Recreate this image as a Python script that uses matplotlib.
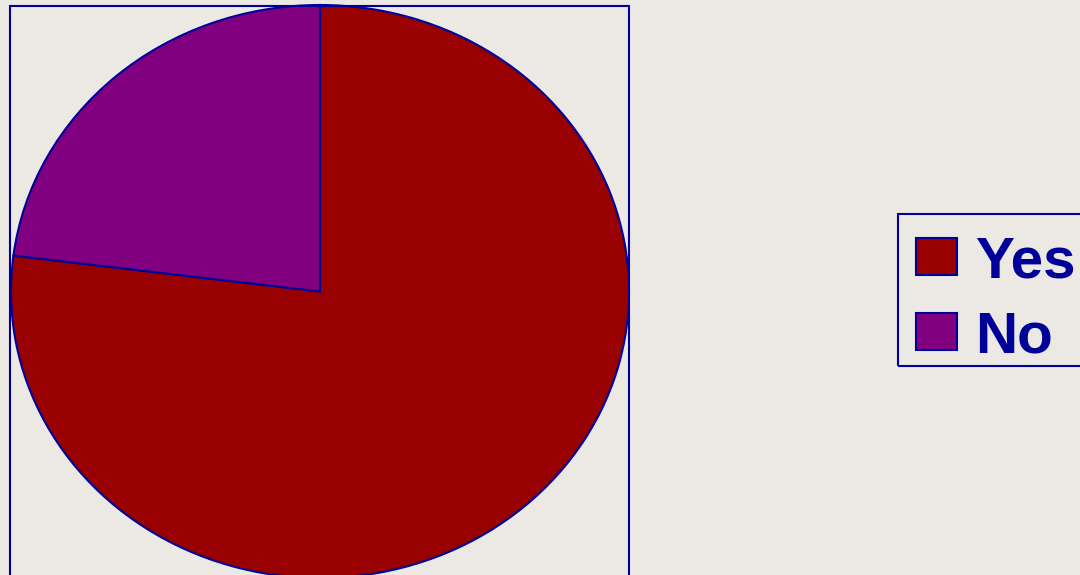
import matplotlib
matplotlib.use("Agg")
import matplotlib.pyplot as plt
from matplotlib.patches import Rectangle

labels = ["Yes", "No"]
values = [77, 23]
colors = ["#990000", "#800080"]
edge = "#000099"

W, H = 1080, 575
fig = plt.figure(figsize=(W / 100, H / 100), dpi=100)
fig.patch.set_facecolor("#ECE9E5")

# plot-area frame
fig.patches.append(Rectangle((10 / W, -0.05), 619 / W, 1.05 - 6 / H,
                             transform=fig.transFigure, fill=False,
                             edgecolor=edge, linewidth=1.5, zorder=0))

ax = fig.add_axes([11 / W, 0.0 - 3 / H, 618 / W, 573 / H])
ax.set_facecolor("none")
wedges, _ = ax.pie(values, colors=colors, startangle=90, counterclock=False,
                   radius=1.0, wedgeprops=dict(edgecolor=edge, linewidth=1.5))
ax.set_aspect("auto")
ax.set_xlim(-1.0, 1.0)
ax.set_ylim(-1.0, 1.0)
ax.axis("off")

# legend frame
fig.patches.append(Rectangle((898 / W, 1 - 366 / H), 200 / W, 152 / H,
                             transform=fig.transFigure, fill=False,
                             edgecolor=edge, linewidth=1.5, zorder=1))

leg = fig.legend(wedges, labels, loc="upper left",
                 bbox_to_anchor=(900 / W, 1 - 219 / H), borderaxespad=0,
                 prop=dict(family="Liberation Sans", weight="bold", size=42),
                 handlelength=0.69, handleheight=0.6, handletextpad=0.31,
                 borderpad=0.28, labelspacing=0.36, frameon=False)
for t in leg.get_texts():
    t.set_color(edge)

fig.savefig("out.png", dpi=100, facecolor=fig.get_facecolor())
